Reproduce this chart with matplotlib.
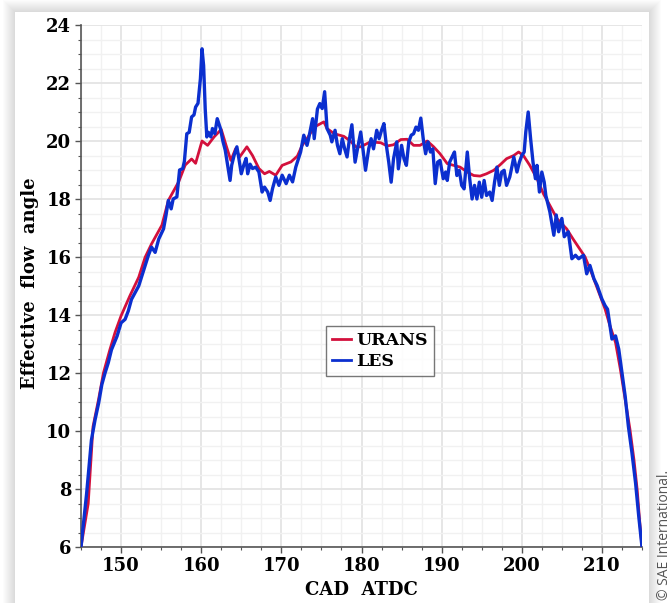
import matplotlib
matplotlib.use("Agg")
import matplotlib.pyplot as plt
import numpy as np
from matplotlib.patches import Rectangle
from matplotlib.ticker import MultipleLocator

# crank angle (CAD ATDC) and effective flow angle
urans_cad = [145.0, 145.9, 146.5, 147.2, 147.8, 148.6, 149.25, 150.0, 151.1, 152.2,
             153.0, 153.8, 155.1, 155.9, 157.2, 158.0, 158.8, 159.3, 160.1, 160.8,
             161.6, 162.5, 163.1, 163.7, 164.3, 164.8, 165.7, 166.4, 167.2, 167.9,
             168.5, 169.3, 170.1, 171.2, 172.0, 172.6, 173.2, 174.1, 175.3, 175.7,
             176.6, 177.8, 178.6, 179.3, 179.9, 181.1, 182.4, 183.2, 184.0, 184.9,
             185.7, 186.5, 187.3, 188.2, 189.0, 189.8, 190.7, 191.5, 192.3, 193.2,
             194.0, 194.8, 195.6, 196.5, 197.3, 198.1, 199.0, 199.6, 200.2, 201.0,
             201.9, 202.7, 203.5, 204.4, 205.6, 206.4, 207.9, 208.75, 209.6, 210.4,
             211.0, 211.7, 212.3, 212.9, 213.5, 214.0, 214.4, 214.7, 215.0]
urans_angle = [6.0, 7.5, 10.15, 11.1, 12.0, 12.8, 13.4, 13.97, 14.66, 15.3,
               15.99, 16.45, 17.1, 17.95, 18.6, 19.17, 19.38, 19.23, 20.0, 19.85,
               20.14, 20.4, 19.85, 19.33, 19.74, 19.45, 19.8, 19.5, 19.05, 18.87,
               18.95, 18.82, 19.16, 19.28, 19.48, 19.85, 20.08, 20.48, 20.66, 20.43,
               20.25, 20.16, 20.0, 19.8, 19.8, 19.97, 19.94, 19.83, 19.87, 20.05,
               20.06, 19.85, 19.85, 20.0, 19.8, 19.56, 19.22, 19.16, 19.1, 18.93,
               18.81, 18.79, 18.87, 18.99, 19.18, 19.39, 19.5, 19.62, 19.5, 19.16,
               18.7, 18.18, 17.78, 17.32, 16.97, 16.62, 16.0, 15.42, 14.79, 14.2,
               13.63, 13.05, 12.13, 11.09, 10.05, 9.0, 7.97, 6.92, 6.0]

les_cad = [145.0, 145.7, 146.3, 146.75, 147.2, 147.6, 148.0, 148.4, 148.8, 149.5,
           150.0, 150.5, 150.9, 151.3, 151.75, 152.2, 152.6, 153.0, 153.4, 153.8,
           154.25, 154.7, 155.3, 155.6, 155.9, 156.25, 156.5, 156.96, 157.3, 157.7,
           157.9, 158.2, 158.5, 158.8, 159.1, 159.3, 159.6, 159.9, 160.1, 160.3,
           160.5, 160.7, 160.9, 161.2, 161.4, 161.7, 162.0, 162.4, 162.7, 163.0,
           163.3, 163.6, 163.8, 164.1, 164.45, 164.7, 165.0, 165.3, 165.6, 165.8,
           166.1, 166.4, 166.8, 167.2, 167.6, 167.9, 168.3, 168.6, 168.9, 169.3,
           169.7, 170.1, 170.6, 171.0, 171.4, 171.8, 172.4, 172.8, 173.2, 173.4,
           173.9, 174.1, 174.5, 174.8, 175.1, 175.4, 175.7, 176.1, 176.3, 176.7,
           177.0, 177.3, 177.6, 177.9, 178.2, 178.5, 178.8, 179.2, 179.5, 179.9,
           180.2, 180.5, 180.9, 181.2, 181.5, 181.9, 182.2, 182.5, 182.8, 183.1,
           183.4, 183.7, 184.0, 184.4, 184.6, 185.0, 185.3, 185.6, 185.9, 186.2,
           186.5, 186.8, 187.1, 187.4, 187.7, 188.0, 188.3, 188.6, 188.9, 189.2,
           189.5, 189.8, 190.2, 190.5, 190.7, 191.0, 191.3, 191.6, 191.9, 192.2,
           192.5, 192.8, 193.2, 193.5, 193.8, 194.1, 194.4, 194.7, 195.0, 195.3,
           195.6, 196.0, 196.3, 196.6, 196.9, 197.2, 197.5, 197.8, 198.1, 198.5,
           198.8, 199.0, 199.4, 199.7, 200.0, 200.3, 200.5, 200.8, 201.1, 201.4,
           201.7, 201.9, 202.2, 202.5, 202.8, 203.0, 203.5, 204.0, 204.3, 204.6,
           205.0, 205.3, 205.8, 206.25, 206.7, 207.1, 207.7, 208.1, 208.5, 209.0,
           209.4, 210.0, 210.4, 210.7, 211.0, 211.25, 211.7, 212.1, 212.5, 212.9,
           213.3, 213.75, 214.2, 214.6, 215.0]
les_angle = [6.0, 7.84, 9.69, 10.38, 10.96, 11.6, 12.0, 12.35, 12.8, 13.27,
             13.73, 13.85, 14.14, 14.54, 14.77, 15.0, 15.35, 15.7, 16.05, 16.34,
             16.16, 16.62, 16.97, 17.43, 17.95, 17.66, 18.0, 18.07, 19.0, 19.05,
             19.3, 20.25, 20.3, 20.83, 20.9, 21.17, 21.3, 22.15, 23.18, 22.6,
             21.1, 20.14, 20.3, 20.14, 20.43, 20.25, 20.77, 20.43, 20.0, 19.68,
             19.16, 18.64, 19.16, 19.5, 19.8, 19.39, 18.87, 19.16, 19.4, 18.87,
             19.2, 19.05, 19.1, 18.93, 18.24, 18.41, 18.24, 17.95, 18.36, 18.76,
             18.47, 18.82, 18.53, 18.82, 18.59, 19.1, 19.62, 20.2, 19.85, 20.08,
             20.77, 20.08, 21.1, 21.29, 21.12, 21.7, 20.43, 20.2, 19.97, 20.37,
             19.85, 19.56, 20.08, 19.73, 19.45, 20.08, 20.56, 19.27, 19.73, 20.31,
             19.68, 18.99, 19.73, 20.08, 19.73, 20.37, 20.08, 20.37, 20.6, 19.85,
             19.27, 18.58, 19.39, 19.97, 19.04, 19.85, 19.39, 19.16, 19.97, 20.2,
             20.25, 20.48, 20.37, 20.79, 20.08, 19.56, 19.97, 19.62, 19.73, 18.53,
             19.27, 19.33, 18.7, 18.93, 18.64, 19.27, 19.45, 19.62, 18.81, 18.99,
             18.47, 18.35, 19.62, 18.7, 18.0, 18.47, 18.0, 18.58, 18.06, 18.64,
             18.12, 18.24, 17.95, 18.58, 19.1, 18.47, 18.93, 18.99, 18.47, 18.76,
             19.16, 19.45, 18.93, 19.27, 19.5, 19.62, 20.31, 21.0, 20.08, 19.27,
             18.7, 19.16, 18.24, 18.93, 18.58, 18.12, 17.56, 16.75, 17.45, 16.87,
             17.33, 16.7, 16.87, 15.94, 16.06, 15.94, 16.06, 15.42, 15.71, 15.25,
             15.02, 14.55, 14.32, 14.2, 13.63, 13.17, 13.28, 12.82, 12.01, 11.2,
             10.16, 9.24, 8.2, 7.04, 6.0]

W, H = 671, 603
fig = plt.figure(figsize=(W / 100, H / 100), dpi=100)
fig.patch.set_facecolor("white")

# soft shadow + white card behind the plot
cx0, cy0, cx1, cy1 = 15, 12, 649, 640
for i in range(12, 0, -1):
    fig.patches.append(Rectangle((cx0 - i, H - cy1 - i), cx1 - cx0 + 2 * i, cy1 - cy0 + 2 * i,
                                 transform=None, facecolor="#000000", edgecolor="none",
                                 alpha=0.012, zorder=0))
fig.patches.append(Rectangle((cx0, H - cy1), cx1 - cx0, cy1 - cy0, transform=None,
                             facecolor="white", edgecolor="none", zorder=1))

ax = fig.add_axes([81 / W, 1 - 547 / H, (642 - 81) / W, (547 - 25) / H])
ax.set_facecolor("white")
ax.set_zorder(2)

red = "#d3103c"
blue = "#0b2fcf"
ax.plot(urans_cad, urans_angle, color=red, lw=2.0, label="URANS", zorder=3)
ax.plot(les_cad, les_angle, color=blue, lw=2.4, label="LES", zorder=4)

ax.set_xlim(145, 215)
ax.set_ylim(6, 24)
ax.xaxis.set_major_locator(MultipleLocator(10))
ax.xaxis.set_minor_locator(MultipleLocator(2.5))
ax.yaxis.set_major_locator(MultipleLocator(2))
ax.yaxis.set_minor_locator(MultipleLocator(0.5))
ax.set_xticks(np.arange(150, 211, 10))

ax.grid(which="major", color="#e4e4e4", lw=1.3)
ax.grid(which="minor", color="#f1f1f1", lw=1.0)
ax.set_axisbelow(True)

for s in ["top", "right"]:
    ax.spines[s].set_visible(False)
for s in ["left", "bottom"]:
    ax.spines[s].set_color("#555555")
    ax.spines[s].set_linewidth(1.2)

serif = {"family": "DejaVu Serif", "weight": "bold"}
ax.tick_params(which="major", direction="out", length=4, width=1, color="#555555",
               labelsize=13, pad=3)
ax.tick_params(which="minor", direction="out", length=2.5, width=0.8, color="#555555")
for lab in ax.get_xticklabels() + ax.get_yticklabels():
    lab.set_fontfamily("DejaVu Serif")
    lab.set_fontweight("bold")

fig.text(30 / W, 1 - 283 / H, "Effective  flow  angle", rotation=90, ha="center",
         va="center", fontsize=13, **serif)
fig.text(361 / W, 1 - 590 / H, "CAD  ATDC", ha="center", va="center", fontsize=13, **serif)

leg = ax.legend(loc="upper left", bbox_to_anchor=(326 / W, 1 - 326 / H),
                bbox_transform=fig.transFigure, borderaxespad=0, fancybox=False,
                handlelength=1.1, handletextpad=0.3, borderpad=0.35, labelspacing=0.25,
                prop={"family": "DejaVu Serif", "weight": "bold", "size": 12.5})
leg.get_frame().set_edgecolor("#555555")
leg.get_frame().set_linewidth(1.0)
for ln in leg.get_lines():
    ln.set_linewidth(2.0)

fig.text(664 / W, 1 - 600 / H, "© SAE International.", rotation=90, ha="center",
         va="bottom", fontsize=10, color="#555555", family="Open Sans")

fig.savefig("out.png", dpi=100)
